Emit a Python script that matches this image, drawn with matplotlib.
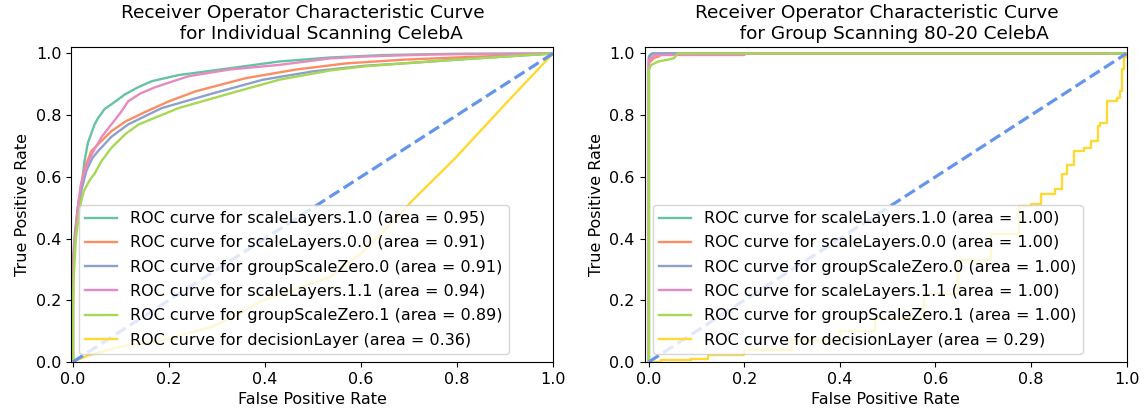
import matplotlib
matplotlib.use('Agg')
import matplotlib.pyplot as plt

# Set2 colours
colors = ['#66c2a5', '#fc8d62', '#8da0cb', '#e78ac3', '#a6d854', '#ffd92f']
names = ['scaleLayers.1.0', 'scaleLayers.0.0', 'groupScaleZero.0',
         'scaleLayers.1.1', 'groupScaleZero.1', 'decisionLayer']

# individual scanning
ind_auc = [0.95, 0.91, 0.91, 0.94, 0.89, 0.36]
ind_fpr = [
    [0, 0, 0.004, 0.01, 0.017, 0.024, 0.031, 0.045, 0.052, 0.066, 0.08, 0.108, 0.135, 0.164, 0.22, 0.326, 0.43, 0.536, 0.65, 0.8, 1.0],
    [0, 0, 0.004, 0.01, 0.017, 0.025, 0.038, 0.052, 0.08, 0.11, 0.15, 0.2, 0.255, 0.36, 0.465, 0.57, 0.69, 0.8, 0.9, 1.0],
    [0, 0, 0.004, 0.01, 0.018, 0.028, 0.04, 0.052, 0.08, 0.115, 0.185, 0.29, 0.396, 0.5, 0.606, 0.69, 0.8, 0.9, 1.0],
    [0, 0, 0.004, 0.01, 0.017, 0.025, 0.035, 0.045, 0.06, 0.08, 0.1, 0.115, 0.14, 0.17, 0.24, 0.326, 0.43, 0.536, 0.606, 0.75, 1.0],
    [0, 0, 0.002, 0.006, 0.013, 0.017, 0.023, 0.035, 0.045, 0.059, 0.08, 0.11, 0.137, 0.22, 0.326, 0.43, 0.536, 0.606, 0.69, 0.8, 0.9, 1.0],
    [0, 0.03, 0.1, 0.185, 0.29, 0.35, 0.396, 0.47, 0.536, 0.606, 0.676, 0.705, 0.796, 0.9, 1.0],
]
ind_tpr = [
    [0, 0.33, 0.42, 0.5, 0.56, 0.65, 0.71, 0.77, 0.79, 0.82, 0.835, 0.867, 0.89, 0.91, 0.93, 0.952, 0.974, 0.987, 0.995, 0.999, 1.0],
    [0, 0.28, 0.4, 0.5, 0.577, 0.63, 0.683, 0.705, 0.748, 0.78, 0.81, 0.845, 0.877, 0.92, 0.948, 0.968, 0.98, 0.987, 0.993, 1.0],
    [0, 0.27, 0.38, 0.48, 0.56, 0.62, 0.66, 0.683, 0.73, 0.77, 0.823, 0.87, 0.915, 0.942, 0.96, 0.968, 0.98, 0.99, 1.0],
    [0, 0.3, 0.4, 0.5, 0.577, 0.62, 0.66, 0.69, 0.73, 0.77, 0.81, 0.845, 0.87, 0.89, 0.926, 0.948, 0.963, 0.984, 0.99, 0.997, 1.0],
    [0, 0.2, 0.29, 0.4, 0.48, 0.52, 0.555, 0.59, 0.61, 0.65, 0.694, 0.74, 0.77, 0.823, 0.87, 0.915, 0.945, 0.958, 0.968, 0.98, 0.99, 1.0],
    [0, 0.02, 0.05, 0.07, 0.114, 0.16, 0.2, 0.24, 0.275, 0.36, 0.47, 0.52, 0.66, 0.835, 1.0],
]

# group scanning
grp_auc = [1.00, 1.00, 1.00, 1.00, 1.00, 0.29]
grp_fpr = [
    [0, 0, 0.002, 0.006, 1.0],
    [0, 0, 0.004, 0.01, 0.02, 0.03, 1.0],
    [0, 0, 0.003, 0.008, 1.0],
    [0, 0, 0.005, 0.012, 0.2, 0.2, 1.0],
    [0, 0, 0.002, 0.005, 0.012, 0.019, 0.03, 0.04, 0.053, 0.06, 1.0],
    [0, 0.025, 0.089, 0.123, 0.2, 0.3, 0.4, 0.473, 0.577, 0.647, 0.716, 0.775, 0.8, 0.82, 0.85, 0.865,
     0.875, 0.89, 0.91, 0.925, 0.94, 0.945, 0.96, 0.98, 0.987, 0.99, 0.995, 1.0],
]
grp_tpr = [
    [0, 0.99, 0.995, 1.0, 1.0],
    [0, 0.97, 0.975, 0.985, 0.99, 1.0, 1.0],
    [0, 0.985, 0.993, 1.0, 1.0],
    [0, 0.98, 0.985, 0.995, 0.995, 1.0, 1.0],
    [0, 0.947, 0.955, 0.963, 0.968, 0.974, 0.977, 0.98, 0.985, 1.0, 1.0],
    [0, 0.006, 0.01, 0.023, 0.04, 0.07, 0.1, 0.14, 0.22, 0.33, 0.415, 0.506, 0.513, 0.545, 0.56, 0.61,
     0.64, 0.683, 0.694, 0.716, 0.765, 0.774, 0.845, 0.855, 0.877, 0.95, 0.99, 1.0],
]

plt.rcParams['font.size'] = 11.5

fig, (ax1, ax2) = plt.subplots(1, 2, figsize=(11.46, 4.15), dpi=100)
fig.subplots_adjust(left=0.062, right=0.983, bottom=0.128, top=0.886, wspace=0.19)

panels = [
    (ax1, ind_fpr, ind_tpr, ind_auc, 'Receiver Operator Characteristic Curve   \n   for Individual Scanning CelebA', -0.004),
    (ax2, grp_fpr, grp_tpr, grp_auc, 'Receiver Operator Characteristic Curve   \n   for Group Scanning 80-20 CelebA', -0.009),
]

for ax, fprs, tprs, aucs, title, x0 in panels:
    for i in range(len(names)):
        ds = 'steps-post' if (ax is ax2 and i == 5) else 'default'
        ax.plot(fprs[i], tprs[i], color=colors[i], lw=1.7, drawstyle=ds,
                label='ROC curve for %s (area = %0.2f)' % (names[i], aucs[i]))
    ax.plot([0, 1], [0, 1], color='cornflowerblue', lw=2.3, linestyle='--')
    ax.set_xlim([x0, 1.0])
    ax.set_ylim([0.0, 1.02])
    ax.set_xlabel('False Positive Rate')
    ax.set_ylabel('True Positive Rate')
    ax.set_title(title, fontsize=13.3)
    ax.legend(loc='lower left', labelspacing=0.58)

fig.savefig('out.png')
